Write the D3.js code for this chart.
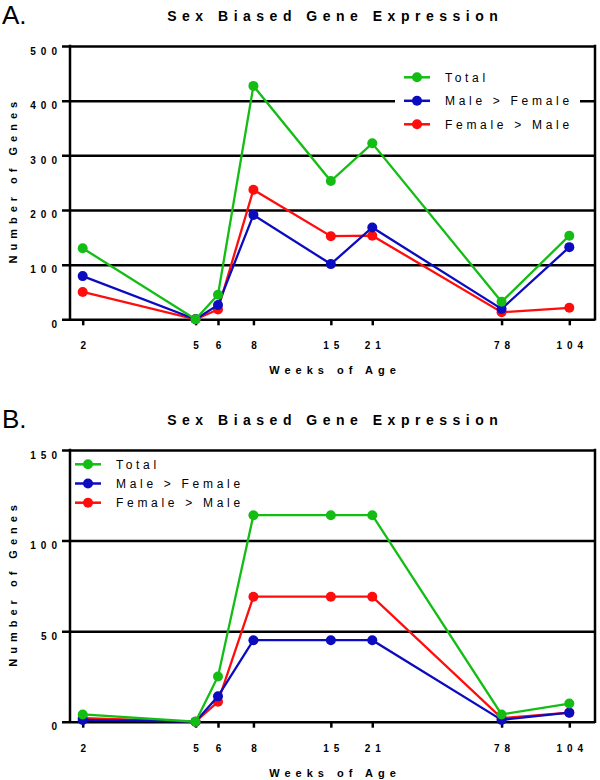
<!DOCTYPE html>
<html>
<head>
<meta charset="utf-8">
<script src="https://cdn.jsdelivr.net/npm/d3@7"></script>
<style>
  body { margin: 0; background: #fff; }
  svg { display: block; font-family: 'Liberation Sans', Arial, Helvetica, sans-serif; }
</style>
</head>
<body>
<svg id="chart" width="600" height="780"></svg>
<script>
'use strict'

// week labels on the x axis
var weeks = [2, 5, 6, 8, 15, 21, 78, 104]
// where each week sits on the log axis of the original figure (78 sits at the 60 mark)
var weekPos = [2, 5, 6, 8, 15, 21, 60, 104]
var seriesNames = ['Total', 'Male > Female', 'Female > Male']

// panel A
var totalA = [130, 0, 45, 427, 253, 322, 32, 153]
var maleA = [79, 0, 26, 191, 101, 168, 19, 132]
var femaleA = [50, 0, 18, 237, 152, 153, 13, 21]
var yTicksA = [0, 100, 200, 300, 400, 500]

// panel B
var totalB = [4, 0, 25, 114, 114, 114, 4, 10]
var maleB = [1, 0, 14, 45, 45, 45, 1, 5]
var femaleB = [2, 0, 11, 69, 69, 69, 2, 5]
var yTicksB = [0, 50, 100, 150]

var colors = ['#14bd14', '#0b0bbf', '#ff0c0c']

function panel (p) {
  var props = Object.assign({
    left: 70,
    right: 595,
    tickLeft: 62
  }, p || {})

  function draw (g) {
    var x = d3.scaleLog().domain([2, 104]).range([82.7, 569.3])
    var y = d3.scaleLinear().domain([0, props.max]).range([props.bottom, props.top])
    var mid = (props.left + props.right) / 2

    g.append('text')
      .attr('x', 2)
      .attr('y', props.top - 22)
      .style('font-size', '26px')
      .text(props.letter)

    g.append('text')
      .attr('x', mid + 2.75)
      .attr('y', props.top - 25)
      .attr('text-anchor', 'middle')
      .style('font-size', '14px')
      .style('font-weight', 'bold')
      .style('letter-spacing', '5.5px')
      .text('Sex Biased Gene Expression')

    // horizontal grid + y labels (0 line is the baseline, top line is the frame)
    var yAxis = d3.axisLeft(y)
      .tickValues(props.yTicks)
      .tickSize(-(props.right - props.tickLeft))
      .tickPadding(0)
    var ya = g.append('g')
      .attr('transform', 'translate(' + props.tickLeft + ',0)')
      .call(yAxis)
    ya.select('.domain').remove()
    ya.selectAll('line').attr('stroke', '#000').attr('stroke-width', 2.5)
    ya.selectAll('text')
      .attr('dy', 8)
      .attr('fill', '#000')
      .style('font-size', '10px')
      .style('font-weight', 'bold')
      .style('letter-spacing', '5px')
      .style('font-family', null)

    g.append('line')
      .attr('x1', props.left).attr('x2', props.left)
      .attr('y1', props.top - 1.2).attr('y2', props.bottom + 1.2)
      .attr('stroke', '#000').attr('stroke-width', 2.5)
    g.append('line')
      .attr('x1', props.right).attr('x2', props.right)
      .attr('y1', props.top - 1.2).attr('y2', props.bottom + 1.2)
      .attr('stroke', '#000').attr('stroke-width', 2.5)

    var xAxis = d3.axisBottom(x)
      .tickValues(weekPos)
      .tickFormat(function (d, i) { return weeks[i] })
      .tickSize(6)
    var xa = g.append('g')
      .attr('transform', 'translate(0,' + props.bottom + ')')
      .call(xAxis)
    xa.select('.domain').remove()
    xa.selectAll('line').attr('stroke', '#000').attr('stroke-width', 2.5)
    xa.selectAll('text')
      .attr('y', 30)
      .attr('dy', 0)
      .attr('dx', 2.5)
      .attr('fill', '#000')
      .style('font-size', '10px')
      .style('font-weight', 'bold')
      .style('letter-spacing', '5px')
      .style('font-family', null)

    g.append('text')
      .attr('x', mid + 2.5)
      .attr('y', props.bottom + 55)
      .attr('text-anchor', 'middle')
      .style('font-size', '11px')
      .style('font-weight', 'bold')
      .style('letter-spacing', '5px')
      .text('Weeks of Age')

    g.append('text')
      .attr('transform', 'translate(17,' + ((props.top + props.bottom) / 2 - 2.5) + ') rotate(-90)')
      .attr('text-anchor', 'middle')
      .style('font-size', '11px')
      .style('font-weight', 'bold')
      .style('letter-spacing', '5px')
      .text('Number of Genes')

    // legend
    var lg = props.legend
    g.append('rect')
      .attr('x', lg.boxX).attr('y', lg.y - 11)
      .attr('width', lg.boxW).attr('height', lg.dy * 2 + 22)
      .attr('fill', '#fff')
    var items = g.selectAll('g.legend-item')
      .data(seriesNames)
    items = items.enter().append('g')
      .classed('legend-item', true)
      .attr('transform', function (d, i) {
        return 'translate(' + lg.x + ',' + (lg.y + i * lg.dy) + ')'
      })
    items.append('line')
      .attr('x1', 0).attr('x2', 26)
      .attr('stroke', function (d, i) { return colors[i] })
      .attr('stroke-width', 2.5)
    items.append('circle')
      .attr('cx', 13).attr('r', 5)
      .attr('fill', function (d, i) { return colors[i] })
    items.append('text')
      .attr('x', 41).attr('y', 4.3)
      .style('font-size', '12px')
      .style('letter-spacing', '3.7px')
      .text(function (d) { return d })

    // data, drawn red first so green ends on top
    var line = d3.line()
      .x(function (d, i) { return x(weekPos[i]) })
      .y(function (d) { return y(d) })
    var series = props.series.map(function (v, i) { return { values: v, color: colors[i] } }).reverse()
    var sg = g.selectAll('g.series')
      .data(series)
      .enter().append('g')
      .classed('series', true)
    sg.append('path')
      .attr('d', function (d) { return line(d.values) })
      .attr('fill', 'none')
      .attr('stroke', function (d) { return d.color })
      .attr('stroke-width', 2.3)
    sg.selectAll('circle')
      .data(function (d) { return d.values.map(function (v, i) { return { v: v, i: i, color: d.color } }) })
      .enter().append('circle')
      .attr('cx', function (d) { return x(weekPos[d.i]) })
      .attr('cy', function (d) { return y(d.v) })
      .attr('r', 5)
      .attr('fill', function (d) { return d.color })
  }

  return draw
}

var svg = d3.select('#chart')

svg.append('g').call(panel({
  letter: 'A.',
  top: 46,
  bottom: 319.3,
  max: 500,
  yTicks: yTicksA,
  series: [totalA, maleA, femaleA],
  legend: { x: 404, y: 77.3, dy: 23.5, boxX: 395, boxW: 185 }
}))

svg.append('g').call(panel({
  letter: 'B.',
  top: 450,
  bottom: 721.7,
  max: 150,
  yTicks: yTicksB,
  series: [totalB, maleB, femaleB],
  legend: { x: 75, y: 464.3, dy: 19.2, boxX: 73, boxW: 180 }
}))
</script>
</body>
</html>
